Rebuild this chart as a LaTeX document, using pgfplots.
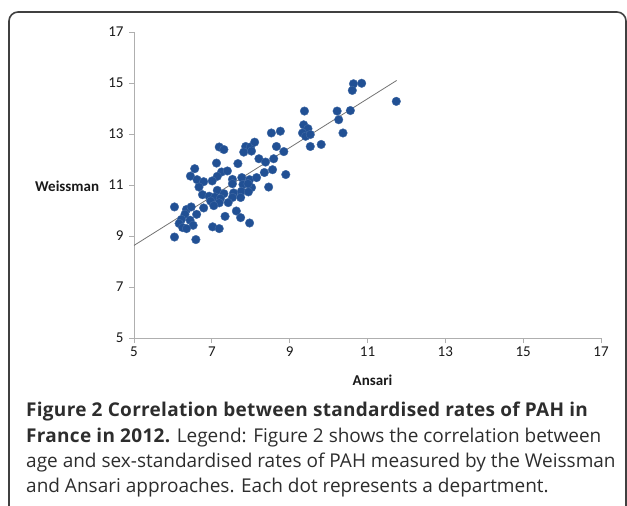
\documentclass[border=0pt]{standalone}
\usepackage{fontspec}
\setmainfont{Carlito}
\newfontfamily\capfont{Open Sans}
\newfontfamily\capfontB[LetterSpace=1.5]{Open Sans}
\usepackage{pgfplots}
\pgfplotsset{compat=1.18}
\definecolor{dotblue}{RGB}{33,80,148}
\definecolor{axgray}{RGB}{175,175,175}
\definecolor{txt}{RGB}{25,25,25}
\definecolor{captxt}{RGB}{45,45,45}
\begin{document}
\begin{tikzpicture}[x=1pt,y=1pt]
\useasboundingbox (0,0) rectangle (627,-506);
\begin{scope}
\clip (0,0) rectangle (627,-506);
\draw[line width=1.6pt, color=black!75, rounded corners=9pt] (9,-540) -- (9,-12) -- (626,-12) -- (626,-540);
\end{scope}
\begin{axis}[
  at={(134pt,-338pt)}, anchor=south west,
  scale only axis, width=467pt, height=306pt,
  xmin=5, xmax=17, ymin=5, ymax=17,
  xtick={5,7,...,17}, ytick={5,7,...,17},
  axis x line=bottom, axis y line=left,
  axis line style={-, color=axgray, line width=0.7pt},
  xtick align=outside, ytick align=outside,
  tick style={color=axgray, line width=0.7pt},
  major tick length=5pt,
  ticklabel style={font=\fontsize{15}{18}\selectfont, color=txt},
  yticklabel style={xshift=-2pt},
  /pgf/number format/assume math mode=true,
  clip=false,
]
\addplot[only marks, mark=*, mark size=4.3pt, mark options={fill=dotblue, draw=dotblue!85!white, line width=0.4pt}] coordinates {
(7.19,12.49) (7.31,12.39) (7.87,12.51) (7.99,12.49) (8.10,12.68) (7.82,12.29) (8.02,12.33) (8.66,12.51) (8.85,12.31) (8.21,12.03)
(8.38,11.90) (8.59,12.03) (7.12,11.86) (7.67,11.84) (6.56,11.64) (8.56,11.60) (8.35,11.49) (8.90,11.41) (7.25,11.51) (7.40,11.55)
(7.14,11.34) (6.45,11.35) (6.62,11.21) (6.79,11.13) (7.01,11.16) (7.53,11.22) (7.77,11.29) (7.97,11.21) (8.15,11.29) (7.80,11.02)
(8.02,10.90) (7.53,11.05) (6.67,10.92) (8.46,10.92) (7.14,10.79) (7.31,10.66) (7.56,10.69) (7.76,10.75) (7.94,10.73) (6.76,10.62)
(6.93,10.56) (7.08,10.53) (7.22,10.47) (7.53,10.51) (7.74,10.51) (7.42,10.31) (6.97,10.37) (7.19,10.30) (7.05,10.19) (6.79,10.10)
(6.04,10.14) (6.35,10.04) (6.47,10.14) (6.61,9.85) (6.31,9.85) (6.44,9.62) (6.22,9.65) (6.16,9.49) (6.52,9.42) (6.25,9.33)
(6.35,9.29) (7.34,9.77) (7.63,9.98) (7.74,9.72) (7.97,9.51) (7.02,9.36) (7.19,9.29) (6.04,8.96) (6.59,8.86) (7.93,11.05)
(10.64,14.97) (10.85,14.99) (10.61,14.71) (11.74,14.28) (9.38,13.90) (10.22,13.90) (10.56,13.92) (10.26,13.56) (9.36,13.36) (9.47,13.21)
(9.33,13.04) (9.41,12.91) (9.53,12.98) (10.37,13.04) (8.53,13.04) (8.76,13.11) (9.53,12.51) (9.81,12.59)
};
\addplot[color=black!55, line width=0.8pt] coordinates {(5,8.63) (11.75,15.10)};
\node[anchor=base east, inner sep=0pt, font=\bfseries\fontsize{15}{18}\selectfont, color=txt] at (axis cs:5,11) [xshift=-34.7pt, yshift=-6.3pt] {Weissman};
\node[anchor=base, inner sep=0pt, font=\bfseries\fontsize{15}{18}\selectfont, color=txt] at (axis cs:11,5) [xshift=5pt, yshift=-47pt] {Ansari};
\end{axis}
\begin{scope}[every node/.style={anchor=base west, inner sep=0pt, color=captxt, font=\capfont\fontsize{19}{24}\selectfont}]
\node at (26,-416.7) {{\capfontB\bfseries Figure 2 Correlation between standardised rates of PAH in}};
\node at (26,-442.2) {{\capfontB\bfseries France in 2012.} Legend: Figure 2 shows the correlation between};
\node at (26,-467.2) {age and sex-standardised rates of PAH measured by the Weissman};
\node at (26,-492.2) {and Ansari approaches. Each dot represents a department.};
\end{scope}
\end{tikzpicture}
\end{document}
